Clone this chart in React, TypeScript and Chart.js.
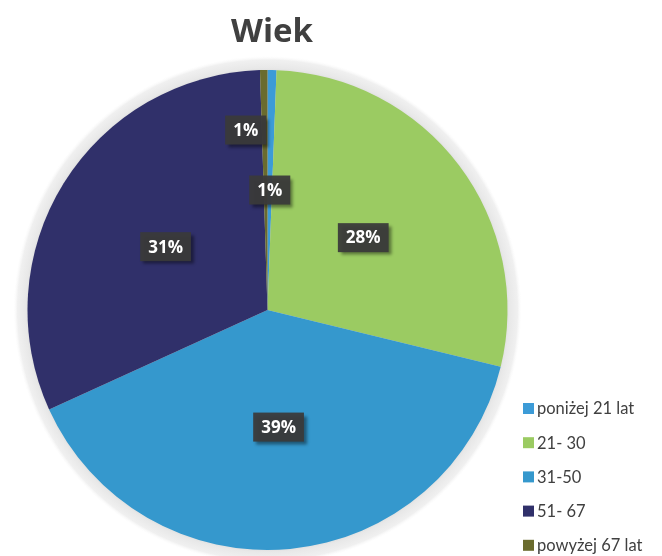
import React, { useEffect, useRef } from "react";
import { Chart, registerables } from "chart.js";

Chart.register(...registerables);

const titleText = "Wiek";
const categories = ["poniżej 21 lat", "21-30", "31-50", "51-67", "powyżej 67 lat"];
const legendLabels = ["poniżej 21 lat", "21- 30", "31-50", "51- 67", "powyżej 67 lat"];
const values = [0.6, 28.2, 39.4, 31.3, 0.5];
const colors = ["#3C9BD7", "#9BCB62", "#3598CD", "#30306A", "#6A6B2E"];

// label placement style (fraction of radius, horizontal nudge)
const labelRadius = [0.5, 0.5, 0.49, 0.5, 0.75];
const labelShiftX = [0, 0, 0, 0, -19];

const W = 662;
const H = 556;

const decorPlugin = {
  id: "decor",
  beforeDatasetsDraw(chart: any) {
    const meta = chart.getDatasetMeta(0);
    const arc = meta.data[0];
    if (!arc) return;
    const { x, y, outerRadius } = arc;
    const ctx = chart.ctx;
    ctx.save();
    const g = ctx.createRadialGradient(x, y, outerRadius - 2, x, y, outerRadius + 14);
    g.addColorStop(0, "#dcdcdc");
    g.addColorStop(0.25, "#e8e8e8");
    g.addColorStop(0.75, "#f0f0f0");
    g.addColorStop(1, "rgba(250,250,250,0)");
    ctx.beginPath();
    ctx.arc(x, y, outerRadius + 14, 0, Math.PI * 2);
    ctx.fillStyle = g;
    ctx.fill();
    ctx.restore();
  },
  afterDatasetsDraw(chart: any) {
    const ctx = chart.ctx;
    const meta = chart.getDatasetMeta(0);
    ctx.save();
    ctx.font = "bold 17px 'Open Sans'";
    ctx.textAlign = "center";
    ctx.textBaseline = "middle";
    meta.data.forEach((arc: any, i: number) => {
      const mid = (arc.startAngle + arc.endAngle) / 2;
      const r = arc.outerRadius * labelRadius[i];
      const cx = arc.x + Math.cos(mid) * r + labelShiftX[i];
      const cy = arc.y + Math.sin(mid) * r;
      const text = Math.round(values[i]) + "%";
      const tw = ctx.measureText(text).width;
      const bw = tw + 16;
      const bh = 29;
      ctx.save();
      ctx.shadowColor = "rgba(0,0,0,0.45)";
      ctx.shadowOffsetX = 3;
      ctx.shadowOffsetY = 3;
      ctx.shadowBlur = 3;
      ctx.fillStyle = "rgba(58,58,58,0.94)";
      ctx.fillRect(cx - bw / 2, cy - bh / 2, bw, bh);
      ctx.restore();
      ctx.fillStyle = "#ffffff";
      ctx.fillText(text, cx, cy + 1);
    });
    ctx.restore();
  },
  afterDraw(chart: any) {
    const ctx = chart.ctx;
    ctx.save();
    ctx.fillStyle = "#404040";
    ctx.font = "bold 33px 'Open Sans'";
    ctx.textAlign = "center";
    ctx.textBaseline = "alphabetic";
    ctx.fillText(titleText, 272, 42);

    ctx.font = "16.5px Lato";
    ctx.textAlign = "left";
    ctx.textBaseline = "middle";
    legendLabels.forEach((lab, i) => {
      const cy = 409 + i * 34.2;
      ctx.fillStyle = colors[i];
      ctx.fillRect(523, cy - 6, 11, 11);
      ctx.fillStyle = "#404040";
      ctx.fillText(lab, 537, cy);
    });
    ctx.restore();
  },
};

export default function App() {
  const ref = useRef<HTMLCanvasElement | null>(null);
  useEffect(() => {
    document.body.style.margin = "0";
    const canvas = ref.current;
    if (!canvas) return;
    const chart = new Chart(canvas, {
      type: "pie",
      data: {
        labels: categories,
        datasets: [
          {
            data: values,
            backgroundColor: colors,
            borderWidth: 0,
          },
        ],
      },
      options: {
        responsive: false,
        animation: false,
        devicePixelRatio: 1,
        layout: { padding: { left: 27.5, right: 154.5, top: 70, bottom: 6 } },
        plugins: {
          legend: { display: false },
          title: { display: false },
          tooltip: { enabled: false },
        },
      },
      plugins: [decorPlugin],
    });
    return () => chart.destroy();
  }, []);
  return (
    <div style={{ position: "absolute", left: 0, top: 0, width: W, height: H, background: "#fff" }}>
      <canvas ref={ref} width={W} height={H} style={{ display: "block" }} />
    </div>
  );
}
